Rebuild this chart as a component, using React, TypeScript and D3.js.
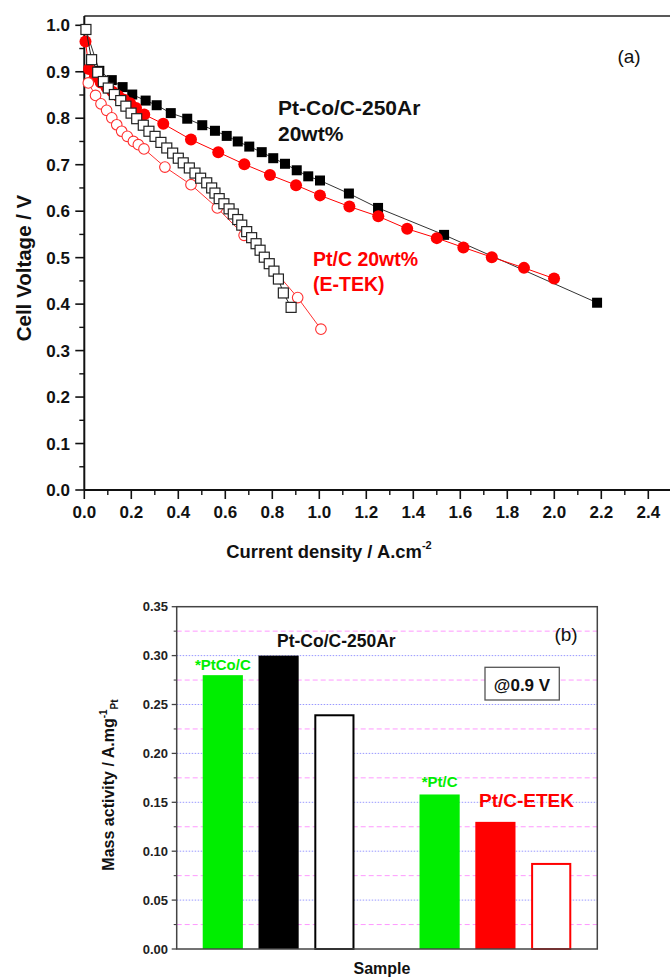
import React from 'react';
import * as d3 from 'd3';

const FONT = "'Liberation Sans', Arial, Helvetica, sans-serif";

// ---------- Panel (a): polarization curves (current density A/cm2, cell voltage V)
const ptCoClosed: [number, number][] = [
  [0.007, 0.99], [0.064, 0.902], [0.117, 0.882], [0.163, 0.867], [0.204, 0.851], [0.261, 0.838],
  [0.308, 0.828], [0.368, 0.811], [0.438, 0.799], [0.502, 0.785], [0.556, 0.773], [0.606, 0.762],
  [0.653, 0.75], [0.702, 0.739], [0.755, 0.727], [0.804, 0.714], [0.854, 0.702], [0.904, 0.688],
  [0.953, 0.675], [1.003, 0.666], [1.126, 0.638], [1.25, 0.607], [1.531, 0.549], [2.182, 0.403],
];
const ptCoOpen: [number, number][] = [
  [0.007, 0.991], [0.031, 0.926], [0.057, 0.899], [0.081, 0.879], [0.102, 0.865], [0.128, 0.851],
  [0.155, 0.838], [0.177, 0.826], [0.199, 0.811], [0.223, 0.799], [0.251, 0.785], [0.275, 0.772],
  [0.301, 0.761], [0.326, 0.748], [0.351, 0.736], [0.376, 0.725], [0.4, 0.714], [0.421, 0.704],
  [0.447, 0.693], [0.471, 0.682], [0.495, 0.671], [0.521, 0.661], [0.542, 0.65], [0.556, 0.639],
  [0.574, 0.627], [0.594, 0.616], [0.616, 0.605], [0.634, 0.594], [0.653, 0.582], [0.67, 0.57],
  [0.691, 0.556], [0.712, 0.543], [0.731, 0.53], [0.748, 0.516], [0.766, 0.501], [0.787, 0.487],
  [0.807, 0.471], [0.826, 0.454], [0.847, 0.424], [0.88, 0.393],
];
const ptcClosed: [number, number][] = [
  [0.005, 0.965], [0.02, 0.906], [0.045, 0.89], [0.07, 0.877], [0.095, 0.866], [0.12, 0.857],
  [0.145, 0.848], [0.17, 0.84], [0.195, 0.832], [0.22, 0.822], [0.255, 0.808], [0.336, 0.788],
  [0.454, 0.754], [0.57, 0.727], [0.681, 0.701], [0.79, 0.678], [0.901, 0.656], [1.003, 0.634],
  [1.128, 0.61], [1.251, 0.589], [1.374, 0.562], [1.5, 0.542], [1.613, 0.522], [1.734, 0.501],
  [1.871, 0.478], [1.999, 0.455],
];
const ptcOpen: [number, number][] = [
  [0.017, 0.876], [0.048, 0.849], [0.071, 0.831], [0.095, 0.817], [0.117, 0.801], [0.138, 0.786],
  [0.159, 0.772], [0.183, 0.761], [0.209, 0.75], [0.23, 0.743], [0.254, 0.734], [0.343, 0.695],
  [0.454, 0.657], [0.566, 0.607], [0.68, 0.548], [0.908, 0.414], [1.007, 0.346],
];
const xTicksA = [0, 0.2, 0.4, 0.6, 0.8, 1.0, 1.2, 1.4, 1.6, 1.8, 2.0, 2.2, 2.4];
const xMinorA = [0.1, 0.3, 0.5, 0.7, 0.9, 1.1, 1.3, 1.5, 1.7, 1.9, 2.1, 2.3];
const yTicksA = [0, 0.1, 0.2, 0.3, 0.4, 0.5, 0.6, 0.7, 0.8, 0.9, 1.0];
const yMinorA = [0.05, 0.15, 0.25, 0.35, 0.45, 0.55, 0.65, 0.75, 0.85, 0.95];

// ---------- Panel (b): mass activity bars
const groups = ['Pt-Co/C-250Ar', 'Pt/C-ETEK'];
const samples = ['*PtCo/C', 'Pt-Co/C-250Ar', 'Pt-Co/C-250Ar cell', '*Pt/C', 'Pt/C-ETEK', 'Pt/C-ETEK cell'];
const sampleGroup = [0, 0, 0, 1, 1, 1];
const sampleSlot = ['a', 'b', 'c', 'a', 'b', 'c'];
const massActivity = [0.28, 0.3, 0.24, 0.158, 0.13, 0.088];
const barFill = ['#00ee00', '#000000', '#ffffff', '#00ee00', '#ff0000', '#ffffff'];
const barStroke = ['#00ee00', '#000000', '#000000', '#00ee00', '#ff0000', '#ff0000'];
const yTicksB = [0, 0.05, 0.1, 0.15, 0.2, 0.25, 0.3, 0.35];
const yMinorB = [0.025, 0.075, 0.125, 0.175, 0.225, 0.275, 0.325];

export default function App() {
  // Panel (a) scales
  const xA = d3.scaleLinear().domain([0, 2.5]).range([84.3, 671.8]);
  const yA = d3.scaleLinear().domain([0, 1.02]).range([490, 16]);
  const lineA = d3.line<[number, number]>().x((d) => xA(d[0])).y((d) => yA(d[1]));

  // Panel (b) scales
  const xLeftB = 176.7;
  const xRightB = 597.3;
  const yB = d3.scaleLinear().domain([0, 0.35]).range([949, 606.7]);
  const outer = d3.scaleBand<number>().domain([0, 1]).range([xLeftB, xRightB]).paddingInner(0.3).paddingOuter(0.12);
  const inner = d3.scaleBand<string>().domain(['a', 'b', 'c']).range([0, outer.bandwidth()]).paddingInner(0.28).paddingOuter(0);
  const barX = (i: number) => (outer(sampleGroup[i]) as number) + (inner(sampleSlot[i]) as number);
  const bw = inner.bandwidth();

  const sq = 10;
  return (
    <svg width={670} height={979} style={{ position: 'absolute', left: 0, top: 0, background: '#fff' }} fontFamily={FONT}>
      <rect x={0} y={0} width={670} height={979} fill="#fff" />
      {/* ================= Panel (a) ================= */}
      <g>
        {/* frame */}
        <line x1={xA(0)} x2={670} y1={yA(1.02)} y2={yA(1.02)} stroke="#222" strokeWidth={1.5} />
        <line x1={xA(0)} x2={xA(0)} y1={yA(1.02)} y2={yA(0)} stroke="#111" strokeWidth={2} />
        <line x1={xA(0)} x2={670} y1={yA(0)} y2={yA(0)} stroke="#111" strokeWidth={2} />
        {yTicksA.map((t) => (
          <g key={'ya' + t}>
            <line x1={xA(0) - 9} x2={xA(0)} y1={yA(t)} y2={yA(t)} stroke="#111" strokeWidth={1.6} />
            <text x={70} y={yA(t) + 6} textAnchor="end" fontSize={17} fontWeight="bold" fill="#111">{d3.format('.1f')(t)}</text>
          </g>
        ))}
        {yMinorA.map((t) => (
          <line key={'yam' + t} x1={xA(0) - 5} x2={xA(0)} y1={yA(t)} y2={yA(t)} stroke="#111" strokeWidth={1.4} />
        ))}
        {xTicksA.map((t) => (
          <g key={'xa' + t}>
            <line x1={xA(t)} x2={xA(t)} y1={yA(0)} y2={yA(0) + 9} stroke="#111" strokeWidth={1.6} />
            <text x={xA(t)} y={518} textAnchor="middle" fontSize={17} fontWeight="bold" fill="#111">{d3.format('.1f')(t)}</text>
          </g>
        ))}
        {xMinorA.map((t) => (
          <line key={'xam' + t} x1={xA(t)} x2={xA(t)} y1={yA(0)} y2={yA(0) + 5} stroke="#111" strokeWidth={1.4} />
        ))}
        {/* axis titles */}
        <text transform="translate(31,268) rotate(-90)" textAnchor="middle" fontSize={20.5} fontWeight="bold" fill="#111">Cell Voltage / V</text>
        <text x={329} y={558} textAnchor="middle" fontSize={18.4} fontWeight="bold" fill="#111">
          Current density / A.cm<tspan dy={-9} fontSize={11}>-2</tspan>
        </text>

        {/* series: Pt-Co/C-250Ar filled squares */}
        <path d={lineA(ptCoClosed) || ''} fill="none" stroke="#333" strokeWidth={1} />
        {ptCoClosed.map((d, i) => (
          <rect key={'pcc' + i} x={xA(d[0]) - sq / 2} y={yA(d[1]) - sq / 2} width={sq} height={sq} fill="#000" />
        ))}
        {/* Pt/C filled circles */}
        <path d={lineA(ptcClosed) || ''} fill="none" stroke="#ff0000" strokeWidth={1} />
        {ptcClosed.map((d, i) => (
          <circle key={'ptc' + i} cx={xA(d[0])} cy={yA(d[1])} r={6} fill="#ff0000" />
        ))}
        {/* Pt/C open circles */}
        <path d={lineA(ptcOpen) || ''} fill="none" stroke="#ff3030" strokeWidth={1} />
        {ptcOpen.map((d, i) => (
          <circle key={'pto' + i} cx={xA(d[0])} cy={yA(d[1])} r={5.3} fill="#fff" stroke="#ff3030" strokeWidth={1.1} />
        ))}
        {/* Pt-Co open squares */}
        <path d={lineA(ptCoOpen) || ''} fill="none" stroke="#222" strokeWidth={1} />
        {ptCoOpen.map((d, i) => (
          <rect key={'pco' + i} x={xA(d[0]) - sq / 2} y={yA(d[1]) - sq / 2} width={sq} height={sq} fill="#fff" stroke="#222" strokeWidth={1.2} />
        ))}

        {/* annotations */}
        <text x={629} y={63} textAnchor="middle" fontSize={19} fill="#111">(a)</text>
        <text x={278} y={115} fontSize={21} fontWeight="bold" fill="#111">Pt-Co/C-250Ar</text>
        <text x={278} y={141} fontSize={21} fontWeight="bold" fill="#111">20wt%</text>
        <text x={313} y={266} fontSize={19.5} fontWeight="bold" fill="#ff0000">Pt/C 20wt%</text>
        <text x={313} y={291} fontSize={19.5} fontWeight="bold" fill="#ff0000">(E-TEK)</text>
      </g>

      {/* ================= Panel (b) ================= */}
      <g>
        {/* grid lines */}
        {yMinorB.map((t) => (
          <line key={'gm' + t} x1={xLeftB} x2={xRightB} y1={yB(t)} y2={yB(t)} stroke="#ff99ff" strokeWidth={1} strokeDasharray="5,3" />
        ))}
        {yTicksB.filter((t) => t > 0 && t < 0.35).map((t) => (
          <line key={'gM' + t} x1={xLeftB} x2={xRightB} y1={yB(t)} y2={yB(t)} stroke="#9999ff" strokeWidth={1} strokeDasharray="1.5,1.5" />
        ))}
        {/* bars */}
        {samples.map((s, i) => {
          const open = barFill[i] === '#ffffff';
          const sw = open ? 2 : 0;
          return (
            <rect
              key={s}
              x={barX(i) + sw / 2}
              y={yB(massActivity[i]) + sw / 2}
              width={bw - sw}
              height={yB(0) - yB(massActivity[i]) - sw / 2}
              fill={barFill[i]}
              stroke={open ? barStroke[i] : 'none'}
              strokeWidth={sw}
            />
          );
        })}
        {/* frame */}
        <rect x={xLeftB} y={yB(0.35)} width={xRightB - xLeftB} height={yB(0) - yB(0.35)} fill="none" stroke="#444" strokeWidth={1.5} />
        {yTicksB.map((t) => (
          <g key={'yb' + t}>
            <line x1={xLeftB - 5} x2={xLeftB} y1={yB(t)} y2={yB(t)} stroke="#444" strokeWidth={1.3} />
            <text x={168} y={yB(t) + 4.5} textAnchor="end" fontSize={13} fontWeight="bold" fill="#222">{d3.format('.2f')(t)}</text>
          </g>
        ))}
        {yMinorB.map((t) => (
          <line key={'ybm' + t} x1={xLeftB - 3} x2={xLeftB} y1={yB(t)} y2={yB(t)} stroke="#444" strokeWidth={1.1} />
        ))}
        {/* axis titles */}
        <text transform="translate(114,785) rotate(-90)" textAnchor="middle" fontSize={16} fontWeight="bold" fill="#111">
          Mass activity / A.mg<tspan dy={-7} fontSize={10}>-1</tspan><tspan dy={11} fontSize={10}>Pt</tspan>
        </text>
        <text x={382} y={974} textAnchor="middle" fontSize={16} fontWeight="bold" fill="#111">Sample</text>

        {/* annotations */}
        <text x={barX(0) + bw / 2} y={670} textAnchor="middle" fontSize={15} fontWeight="bold" fill="#00ee00">*PtCo/C</text>
        <text x={277} y={647} fontSize={17.5} fontWeight="bold" fill="#111">{groups[0]}</text>
        <text x={566} y={641} textAnchor="middle" fontSize={19} fill="#111">(b)</text>
        <rect x={485} y={667.3} width={74.3} height={32.7} fill="#fff" stroke="#555" strokeWidth={1.3} />
        <text x={522} y={691} textAnchor="middle" fontSize={17} fontWeight="bold" fill="#111">@0.9 V</text>
        <text x={barX(3) + bw / 2} y={787} textAnchor="middle" fontSize={15} fontWeight="bold" fill="#00ee00">*Pt/C</text>
        <text x={479} y={807} fontSize={19} fontWeight="bold" fill="#ff0000">{groups[1]}</text>
      </g>
    </svg>
  );
}
